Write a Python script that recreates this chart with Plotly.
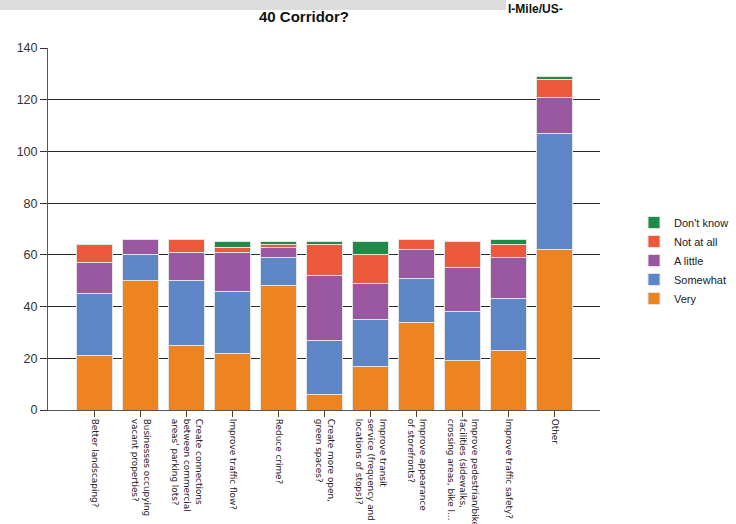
import plotly.graph_objects as go

categories = [
    "Better landscaping?",
    "Businesses occupying<br>vacant properties?",
    "Create connections<br>between commercial<br>areas' parking lots?",
    "Improve traffic flow?",
    "Reduce crime?",
    "Create more open,<br>green spaces?",
    "Improve transit<br>service (frequency and<br>locations of stops)?",
    "Improve appearance<br>of storefronts?",
    "Improve pedestrian/bike<br>facilities (sidewalks,<br>crossing areas, bike l...",
    "Improve traffic safety?",
    "Other",
]
very = [21, 50, 25, 22, 48, 6, 17, 34, 19, 23, 62]
somewhat = [24, 10, 25, 24, 11, 21, 18, 17, 19, 20, 45]
a_little = [12, 6, 11, 15, 4, 25, 14, 11, 17, 16, 14]
not_at_all = [7, 0, 5, 2, 1, 12, 11, 4, 10, 5, 7]
dont_know = [0, 0, 0, 2, 1, 1, 5, 0, 0, 2, 1]

series = [
    ("Very", very, "#EE8420"),
    ("Somewhat", somewhat, "#5C86C6"),
    ("A little", a_little, "#9A57A1"),
    ("Not at all", not_at_all, "#EC583A"),
    ("Don't know", dont_know, "#1E8B47"),
]

xs = list(range(len(categories)))
fig = go.Figure()
for name, vals, col in series:
    fig.add_trace(go.Bar(
        x=xs, y=vals, name=name, width=0.78,
        marker=dict(color=col, line=dict(color="#E2E2E2", width=1)),
    ))

W, H = 736, 524
L, R, T, B = 48, 136, 48, 114
pw, ph = W - L - R, H - T - B

def px_x(p):
    return (p - L) / pw

def px_y(p):
    return (H - B - p) / ph

fig.update_layout(
    width=W, height=H,
    margin=dict(l=L, r=R, t=T, b=B, autoexpand=False),
    barmode="stack",
    plot_bgcolor="white",
    paper_bgcolor="white",
    font=dict(family="Liberation Sans, Arial, sans-serif", size=11, color="#222222"),
    showlegend=True,
    legend=dict(
        x=px_x(634), y=px_y(208), xanchor="left", yanchor="top",
        traceorder="reversed", font=dict(size=11, color="#222222"),
        itemwidth=30, tracegroupgap=0, bgcolor="rgba(0,0,0,0)",
    ),
    xaxis=dict(
        tickmode="array", tickvals=xs, ticktext=categories,
        range=[-1.02, 10.98], tickangle=90, automargin=False,
        showline=True, linecolor="#555555", linewidth=1,
        ticks="outside", ticklen=6, tickcolor="#444444",
        showgrid=False, zeroline=False,
        tickfont=dict(family="DejaVu Sans, sans-serif", size=8.9, color="#222222"),
    ),
    yaxis=dict(
        range=[0, 140], dtick=20, tick0=0, automargin=False,
        showline=True, linecolor="#555555", linewidth=1,
        ticks="outside", ticklen=7, tickcolor="#333333",
        showgrid=True, gridcolor="#2a2a2a", gridwidth=1,
        zeroline=False,
        tickfont=dict(size=12.5, color="#333333"),
    ),
    shapes=[dict(
        type="rect", xref="paper", yref="paper",
        x0=px_x(0), x1=px_x(506), y0=px_y(10), y1=px_y(-5),
        fillcolor="#DCDCDC", line=dict(width=0), layer="above",
    )],
    annotations=[
        dict(text="<b>40 Corridor?</b>", xref="paper", yref="paper",
             x=px_x(304), y=px_y(17), xanchor="center", yanchor="middle",
             showarrow=False, font=dict(size=15, color="#111111")),
        dict(text="<b>I-Mile/US-</b>", xref="paper", yref="paper",
             x=px_x(506), y=px_y(0), xanchor="left", yanchor="top",
             showarrow=False, font=dict(size=12, color="#111111")),
    ],
)

fig.write_html(
    "out.html",
    config={"displayModeBar": False},
    post_script="document.body.style.margin='0';document.body.style.overflow='hidden';",
)
